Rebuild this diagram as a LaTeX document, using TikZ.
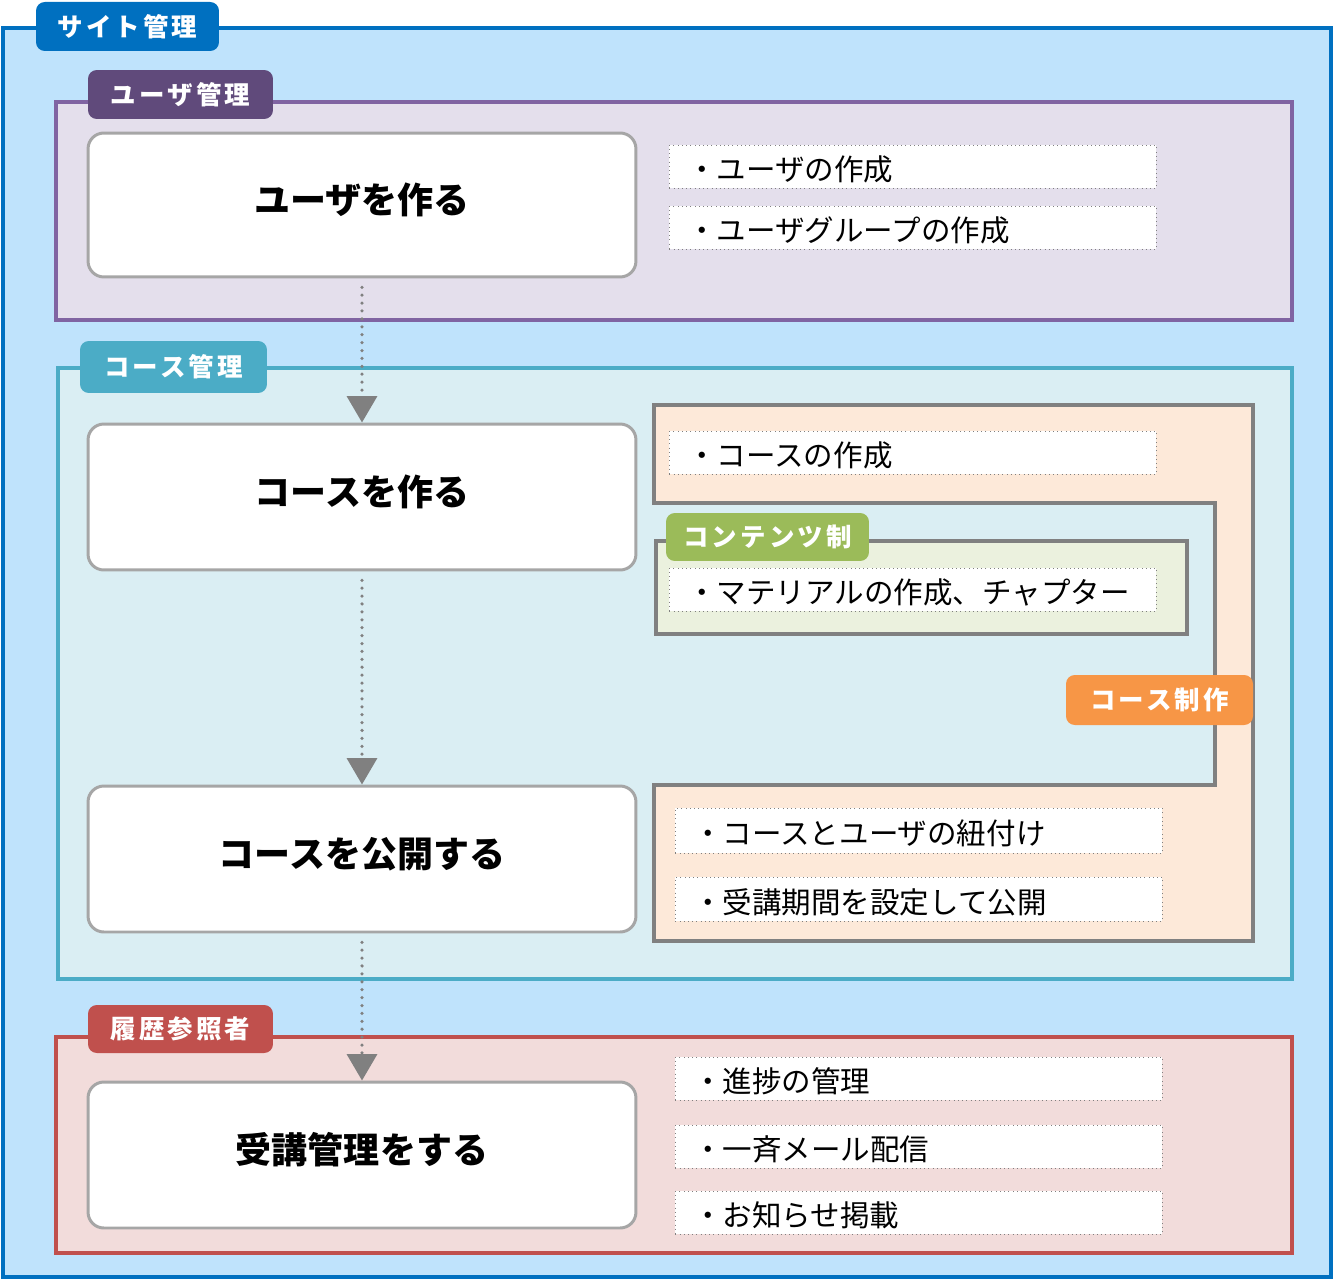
\documentclass[tikz,border=0pt]{standalone}
\usepackage{fontspec}
\setmainfont{Noto Sans CJK JP}
\newfontfamily\tabfont[LetterSpace=12]{Noto Sans CJK JP}
\usetikzlibrary{arrows.meta}

\definecolor{siteline}{HTML}{0070C0}
\definecolor{sitefill}{HTML}{BFE3FC}
\definecolor{userline}{HTML}{8064A2}
\definecolor{userfill}{HTML}{E4DFEC}
\definecolor{usertab}{HTML}{604A7B}
\definecolor{courseline}{HTML}{4BACC6}
\definecolor{coursefill}{HTML}{DAEEF3}
\definecolor{prodline}{HTML}{808080}
\definecolor{prodfill}{HTML}{FDE9D9}
\definecolor{prodtab}{HTML}{F79646}
\definecolor{contfill}{HTML}{EBF1DE}
\definecolor{conttab}{HTML}{9BBB59}
\definecolor{histline}{HTML}{C0504D}
\definecolor{histfill}{HTML}{F2DCDB}
\definecolor{boxline}{HTML}{A6A6A6}

\tikzset{
  tab/.style={rounded corners=5pt, text=white, inner sep=0pt,
    font=\tabfont\bfseries\fontsize{14.5}{14.5}\selectfont},
  stepbox/.style={draw=boxline, line width=1.7pt, fill=white, rounded corners=9pt,
    minimum width=10.96cm, minimum height=2.88cm, text height=16pt, text depth=6pt,
    font=\bfseries\fontsize{20.5}{24}\selectfont},
  itembox/.style={draw=prodline, dotted, thin, fill=white, anchor=north west,
    inner xsep=0.36cm, inner ysep=0pt, text width=9.02cm, minimum height=0.86cm,
    text height=17pt, text depth=1pt, font=\fontsize{16.8}{18}\selectfont},
  flow/.style={draw=prodline, line width=2pt, dash pattern=on 0pt off 4.5pt,
    line cap=round, shorten <=5pt, -{Triangle[width=17pt,length=15pt]}}
}

\begin{document}
\begin{tikzpicture}[x=0.02cm,y=-0.02cm]
\useasboundingbox (0,0) rectangle (1334,1280);

% site management
\draw[draw=siteline,fill=sitefill,line width=2.8pt] (3,28) rectangle (1331,1277);
\node[tab,fill=siteline,minimum width=3.66cm,minimum height=0.98cm] (sitetab) at (127.5,26.5) {サイト管理};

% user management
\draw[draw=userline,fill=userfill,line width=2.3pt] (56,102) rectangle (1292,320);
\node[tab,fill=usertab,minimum width=3.7cm,minimum height=0.98cm] (usertab) at (180.5,94.5) {ユーザ管理};

% course management
\draw[draw=courseline,fill=coursefill,line width=2.3pt] (58,368) rectangle (1292,979);
\node[tab,fill=courseline,minimum width=3.74cm,minimum height=1.04cm] (coursetab) at (173.5,367) {コース管理};

% course production
\draw[draw=prodline,fill=prodfill,line width=2.8pt] (654,405) -- (1253,405) -- (1253,941)
  -- (654,941) -- (654,785) -- (1215,785) -- (1215,503) -- (654,503) -- cycle;
\draw[draw=prodline,fill=contfill,line width=2.8pt] (656,541) rectangle (1187,634);
\node[tab,fill=conttab,minimum width=4.06cm,minimum height=0.96cm] (conttab) at (767.5,537) {コンテンツ制};
\node[tab,fill=prodtab,minimum width=3.74cm,minimum height=1.0cm] (prodtab) at (1159.5,700) {コース制作};

% history
\draw[draw=histline,fill=histfill,line width=2.3pt] (56,1037) rectangle (1292,1253);
\node[tab,fill=histline,minimum width=3.7cm,minimum height=0.96cm] (histtab) at (180.5,1029) {履歴参照者};

% steps
\node[stepbox] (umake) at (362,205) {ユーザを作る};
\node[stepbox,minimum height=2.92cm] (cmake) at (362,497) {コースを作る};
\node[stepbox,minimum height=2.92cm] (cpub) at (362,859) {コースを公開する};
\node[stepbox,minimum height=2.92cm] (hmanage) at (362,1155) {受講管理をする};

% items
\node[itembox] (uitem1) at (669,145) {・ユーザの作成};
\node[itembox] (uitem2) at (669,206) {・ユーザグループの作成};
\node[itembox] (citem1) at (669,431) {・コースの作成};
\node[itembox] (citem2) at (669,568) {・マテリアルの作成、チャプター};
\node[itembox,minimum height=0.9cm] (pitem1) at (675,808) {・コースとユーザの紐付け};
\node[itembox,minimum height=0.88cm] (pitem2) at (675,877) {・受講期間を設定して公開};
\node[itembox] (hitem1) at (675,1057) {・進捗の管理};
\node[itembox] (hitem2) at (675,1125) {・一斉メール配信};
\node[itembox] (hitem3) at (675,1191) {・お知らせ掲載};

% flow
\draw[flow] (umake.south) -- (cmake.north);
\draw[flow] (cmake.south) -- (cpub.north);
\draw[flow] (cpub.south) -- (hmanage.north);
\end{tikzpicture}
\end{document}
